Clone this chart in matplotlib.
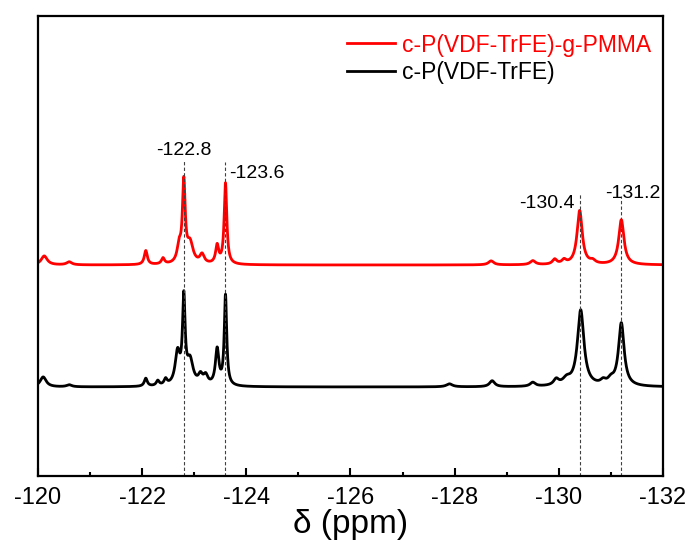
import numpy as np
import matplotlib.pyplot as plt

plt.rcParams['font.family'] = ['Liberation Sans', 'DejaVu Sans']
plt.rcParams['axes.unicode_minus'] = False

# peak tables (ppm, height, half width)
red_pos = [-120.12, -120.6, -122.07, -122.4, -122.71, -122.8, -122.92, -123.15, -123.44, -123.6,
           -128.7, -129.5, -129.92, -130.1, -130.4, -130.65, -131.2]
red_h = [9, 3, 14, 6, 16, 80, 20, 9, 18, 81, 4, 4, 5, 4, 54, 3, 45]
red_w = [0.07, 0.06, 0.035, 0.035, 0.045, 0.032, 0.07, 0.05, 0.035, 0.03,
         0.06, 0.06, 0.05, 0.05, 0.06, 0.06, 0.06]
red_base = 211

blk_pos = [-120.1, -120.6, -122.07, -122.3, -122.45, -122.68, -122.8, -122.92, -123.12, -123.22,
           -123.44, -123.6, -127.9, -128.72, -129.5, -129.95, -130.15, -130.42, -130.85, -131.0, -131.2]
blk_h = [10, 2, 8, 5, 6, 32, 84, 24, 9, 9, 36, 90, 3, 6, 4, 6, 6, 76, 4, 5, 63]
blk_w = [0.07, 0.06, 0.035, 0.035, 0.035, 0.055, 0.03, 0.07, 0.05, 0.05,
         0.04, 0.028, 0.07, 0.06, 0.06, 0.06, 0.09, 0.075, 0.06, 0.07, 0.065]
blk_base = 89

marks = [-122.8, -123.6, -130.4, -131.2]
mark_top = [316, 314, 283, 280]
mark_text = ['-122.8', '-123.6', '-130.4', '-131.2']

def spectrum(x, pos, h, w, base):
    y = np.full_like(x, base, dtype=float)
    for p, a, g in zip(pos, h, w):
        y += a * g**2 / ((x - p)**2 + g**2)
    return y

x = np.linspace(-120, -132, 8000)

fig = plt.figure(figsize=(6.93, 5.45), dpi=100)
ax = fig.add_axes([0.0548, 0.1266, 0.9019, 0.844])

ax.plot(x, spectrum(x, red_pos, red_h, red_w, red_base), color='#ff0000', lw=2,
        label='c-P(VDF-TrFE)-g-PMMA')
ax.plot(x, spectrum(x, blk_pos, blk_h, blk_w, blk_base), color='black', lw=2,
        label='c-P(VDF-TrFE)')

ax.vlines(marks, 0, mark_top, colors='0.25', linestyles=(0, (3, 2)), lw=0.8)

ax.text(marks[0], 326, mark_text[0], ha='center', va='center', fontsize=14)
ax.text(marks[1] - 0.07, 303, mark_text[1], ha='left', va='center', fontsize=14)
ax.text(marks[2] + 0.1, 273, mark_text[2], ha='right', va='center', fontsize=14)
ax.text(marks[3] - 0.22, 283, mark_text[3], ha='center', va='center', fontsize=14)

ax.set_xlim(-120, -132)
ax.set_ylim(0, 460)
ax.set_xticks(np.arange(-120, -133, -2))
ax.set_xticks(np.arange(-121, -132, -2), minor=True)
ax.set_yticks([])
ax.tick_params(axis='x', which='major', direction='in', length=6, width=1.5, labelsize=17, pad=8)
ax.tick_params(axis='x', which='minor', direction='in', length=3, width=1.5)
for s in ax.spines.values():
    s.set_linewidth(1.6)

ax.set_xlabel('δ (ppm)', fontsize=24, labelpad=0)

leg = ax.legend(loc='upper left', bbox_to_anchor=(0.494, 0.962), frameon=False,
                fontsize=16.5, handlelength=2.1, handletextpad=0.3, labelspacing=0.2,
                borderpad=0, borderaxespad=0, labelcolor='linecolor')

fig.savefig('out.png', dpi=100)
